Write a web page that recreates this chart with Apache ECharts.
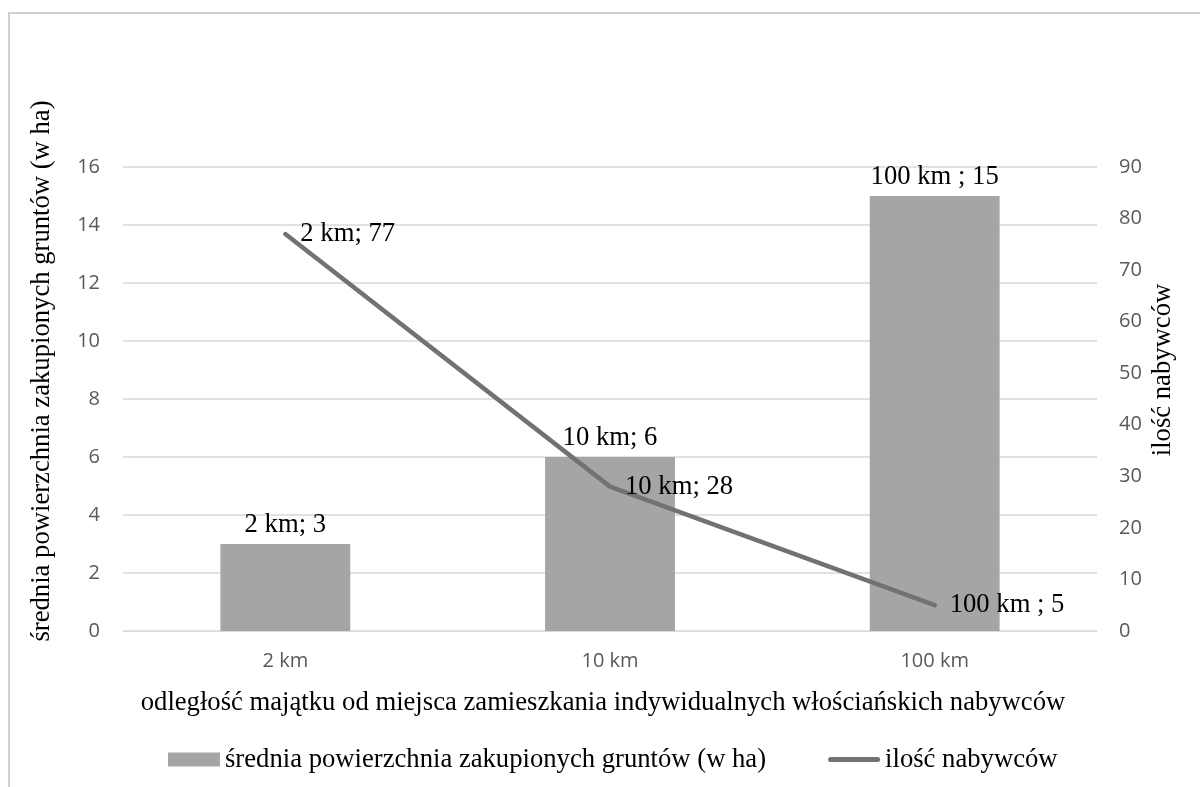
<!DOCTYPE html>
<html>
<head>
<meta charset="utf-8">
<script src="https://cdn.jsdelivr.net/npm/echarts@6/dist/echarts.min.js"></script>
<style>html,body{margin:0;padding:0;background:#fff;}#c{width:1200px;height:787px;}</style>
</head>
<body>
<div id="c"></div>
<script>
const categories = ['2 km', '10 km', '100 km'];
const areaValues = [3, 6, 15];
const buyerValues = [77, 28, 5];
const labelSeparators = ['; ', '; ', ' ; '];
const barSeriesName = 'średnia powierzchnia zakupionych gruntów (w ha)';
const lineSeriesName = 'ilość nabywców';
const xAxisTitle = 'odległość majątku od miejsca zamieszkania indywidualnych włościańskich nabywców';
const leftAxisTitle = 'średnia powierzchnia zakupionych gruntów (w ha)';
const rightAxisTitle = 'ilość nabywców';

const SERIF = '"Liberation Serif", "DejaVu Serif", serif';
const SANS = '"Open Sans", "Noto Sans", sans-serif';
const SERIF_SIZE = 26.67;

const chart = echarts.init(document.getElementById('c'), null, {renderer: 'canvas'});
const fmt = p => categories[p.dataIndex] + labelSeparators[p.dataIndex] + p.value;

chart.setOption({
  animation: false,
  backgroundColor: '#ffffff',
  grid: {left: 123, right: 103, top: 167, bottom: 156, containLabel: false},
  legend: {
    left: 163, top: 741,
    itemWidth: 52, itemHeight: 14, itemGap: 62,
    symbolKeepAspect: true,
    textStyle: {fontFamily: SERIF, fontSize: SERIF_SIZE, color: '#000'},
    data: [
      {name: barSeriesName, icon: 'rect'},
      {name: lineSeriesName, icon: 'path://M2.5,0 L49.5,0 A2.5,2.5 0 0 1 49.5,5 L2.5,5 A2.5,2.5 0 0 1 2.5,0 Z'}
    ]
  },
  xAxis: {
    type: 'category',
    data: categories,
    axisTick: {show: false},
    axisLine: {lineStyle: {color: '#d9d9d9', width: 1}},
    axisLabel: {fontFamily: SANS, fontSize: 20, color: '#595959', margin: 20},
    name: xAxisTitle,
    nameLocation: 'middle',
    nameGap: 58,
    nameTextStyle: {fontFamily: SERIF, fontSize: SERIF_SIZE, color: '#000', padding: [0, 14, 0, 0]}
  },
  yAxis: [
    {
      type: 'value', min: 0, max: 16, interval: 2,
      axisLine: {show: false}, axisTick: {show: false},
      axisLabel: {fontFamily: SANS, fontSize: 20, color: '#595959', margin: 23},
      splitLine: {lineStyle: {color: '#d9d9d9', width: 1.5}}
    },
    {
      type: 'value', min: 0, max: 90, interval: 10,
      axisLine: {show: false}, axisTick: {show: false},
      axisLabel: {fontFamily: SANS, fontSize: 20, color: '#595959', margin: 22},
      splitLine: {show: false}
    }
  ],
  series: [
    {
      name: barSeriesName,
      type: 'bar',
      data: areaValues,
      barWidth: '40%',
      itemStyle: {color: '#a5a5a5'},
      label: {show: true, position: 'top', distance: 6, formatter: fmt,
        fontFamily: SERIF, fontSize: SERIF_SIZE, color: '#000'}
    },
    {
      name: lineSeriesName,
      type: 'line',
      yAxisIndex: 1,
      data: buyerValues,
      symbol: 'circle',
      symbolSize: 0,
      showSymbol: true,
      lineStyle: {color: '#767171', width: 4.5, cap: 'round'},
      itemStyle: {color: '#767171'},
      label: {show: true, position: 'right', distance: 15, formatter: fmt,
        fontFamily: SERIF, fontSize: SERIF_SIZE, color: '#000'}
    }
  ],
  graphic: [
    {type: 'rect', silent: true, shape: {x: 9, y: 13, width: 1400, height: 1000},
      style: {fill: 'none', stroke: '#d0d0d0', lineWidth: 2}},
    {type: 'text', x: 42, y: 371, rotation: Math.PI / 2,
      style: {text: leftAxisTitle, font: SERIF_SIZE + 'px ' + SERIF, fill: '#000', textAlign: 'center', textVerticalAlign: 'middle'}},
    {type: 'text', x: 1163, y: 370, rotation: Math.PI / 2,
      style: {text: rightAxisTitle, font: SERIF_SIZE + 'px ' + SERIF, fill: '#000', textAlign: 'center', textVerticalAlign: 'middle'}}
  ]
});
</script>
</body>
</html>
